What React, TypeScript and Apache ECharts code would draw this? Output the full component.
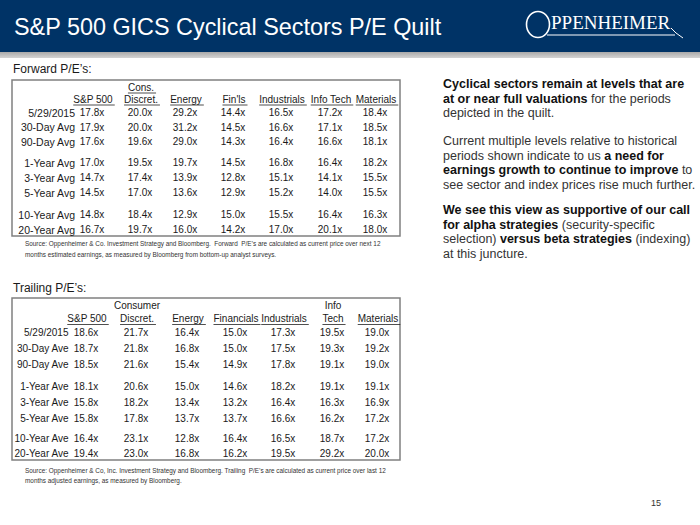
import React, { useEffect, useRef } from "react";
import * as echarts from "echarts";

// ---------- DATA ----------
const titleText = "S&P 500 GICS Cyclical Sectors P/E Quilt";

const fwdTopHeaders = ["", "Cons.", "", "", "", "", ""];
const fwdHeaders = ["S&P 500", "Discret.", "Energy", "Fin'ls", "Industrials", "Info Tech", "Materials"];
const fwdRows = ["5/29/2015", "30-Day Avg", "90-Day Avg", "1-Year Avg", "3-Year Avg", "5-Year Avg", "10-Year Avg", "20-Year Avg"];
const fwdValues = [
  [17.8, 20.0, 29.2, 14.4, 16.5, 17.2, 18.4],
  [17.9, 20.0, 31.2, 14.5, 16.6, 17.1, 18.5],
  [17.6, 19.6, 29.0, 14.3, 16.4, 16.6, 18.1],
  [17.0, 19.5, 19.7, 14.5, 16.8, 16.4, 18.2],
  [14.7, 17.4, 13.9, 12.8, 15.1, 14.1, 15.5],
  [14.5, 17.0, 13.6, 12.9, 15.2, 14.0, 15.5],
  [14.8, 18.4, 12.9, 15.0, 15.5, 16.4, 16.3],
  [16.7, 19.7, 16.0, 14.2, 17.0, 20.1, 18.0],
];
const fwdSource = [
  "Source: Oppenheimer & Co. Investment Strategy and Bloomberg.  Forward  P/E\u2019s are calculated as current price over next 12",
  "months estimated earnings, as measured by Bloomberg from bottom-up analyst surveys.",
];

const trlTopHeaders = ["", "Consumer", "", "", "", "Info", ""];
const trlHeaders = ["S&P 500", "Discret.", "Energy", "Financials", "Industrials", "Tech", "Materials"];
const trlRows = ["5/29/2015", "30-Day Ave", "90-Day Ave", "1-Year Ave", "3-Year Ave", "5-Year Ave", "10-Year Ave", "20-Year Ave"];
const trlValues = [
  [18.6, 21.7, 16.4, 15.0, 17.3, 19.5, 19.0],
  [18.7, 21.8, 16.8, 15.0, 17.5, 19.3, 19.2],
  [18.5, 21.6, 15.4, 14.9, 17.8, 19.1, 19.0],
  [18.1, 20.6, 15.0, 14.6, 18.2, 19.1, 19.1],
  [15.8, 18.2, 13.4, 13.2, 16.4, 16.3, 16.9],
  [15.8, 17.8, 13.7, 13.7, 16.6, 16.2, 17.2],
  [16.4, 23.1, 12.8, 16.4, 16.5, 18.7, 17.2],
  [19.4, 23.0, 16.8, 16.2, 19.5, 29.2, 20.0],
];
const trlSource = [
  "Source: Oppenheimer & Co, Inc. Investment Strategy and Bloomberg. Trailing  P/E\u2019s are calculated as current price over last 12",
  "months adjusted earnings, as measured by Bloomberg.",
];

// right-hand commentary: [text, bold]
const commentary: [string, boolean][][] = [
  [["Cyclical sectors remain at levels that are", true]],
  [["at or near full valuations", true], [" for the periods", false]],
  [["depicted in the quilt.", false]],
  [],
  [["Current multiple levels relative to historical", false]],
  [["periods shown indicate to us ", false], ["a need for", true]],
  [["earnings growth to continue to improve", true], [" to", false]],
  [["see sector and index prices rise much further.", false]],
  [],
  [["We see this view as supportive of our call", true]],
  [["for alpha strategies", true], [" (security-specific", false]],
  [["selection) ", false], ["versus beta strategies", true], [" (indexing)", false]],
  [["at this juncture.", false]],
];
const pageNumber = "15";

// ---------- LAYOUT ----------
const FF = "'Liberation Sans', Arial, sans-serif";
const tableFont = `10px ${FF}`;

const ctx = document.createElement("canvas").getContext("2d")!;
function tw(text: string, font: string) {
  ctx.font = font;
  return ctx.measureText(text).width;
}

function txt(text: string, x: number, y: number, font: string, fill: string, align = "left") {
  return {
    type: "text",
    x,
    y,
    silent: true,
    style: { text, font, fill, textAlign: align, textVerticalAlign: "middle" },
  };
}

function buildTable(
  els: any[],
  cfg: {
    label: string; labelY: number; box: [number, number, number, number];
    top: string[]; topUnderline: boolean; topY: number;
    headers: string[]; headY: number; colX: number[];
    rows: string[]; rowY: number[]; rowRight: number; rowFont: string; values: number[][];
    source: string[]; sourceY: number[];
  }
) {
  els.push(txt(cfg.label, 13, cfg.labelY, `12px ${FF}`, "#1a1a1a"));
  const [bx, by, bw, bh] = cfg.box;
  els.push({
    type: "rect", silent: true,
    shape: { x: bx, y: by, width: bw, height: bh },
    style: { fill: "none", stroke: "#808080", lineWidth: 1.5 },
  });
  const ul = (t: string, cx: number, y: number) => {
    const w = tw(t, tableFont);
    els.push({
      type: "line", silent: true,
      shape: { x1: cx - w / 2, y1: y + 6, x2: cx + w / 2 + 2, y2: y + 6 },
      style: { stroke: "#222", lineWidth: 0.8 },
    });
  };
  cfg.top.forEach((t, i) => {
    if (!t) return;
    els.push(txt(t, cfg.colX[i], cfg.topY, tableFont, "#1a1a1a", "center"));
    if (cfg.topUnderline) ul(t, cfg.colX[i], cfg.topY);
  });
  cfg.headers.forEach((t, i) => {
    els.push(txt(t, cfg.colX[i], cfg.headY, tableFont, "#1a1a1a", "center"));
    ul(t, cfg.colX[i], cfg.headY);
  });
  cfg.rows.forEach((r, ri) => {
    els.push(txt(r, cfg.rowRight, cfg.rowY[ri], cfg.rowFont, "#1a1a1a", "right"));
    cfg.values[ri].forEach((v, ci) => {
      els.push(txt(v.toFixed(1) + "x", cfg.colX[ci] - 1, cfg.rowY[ri], tableFont, "#1a1a1a", "center"));
    });
  });
  cfg.source.forEach((s, i) => {
    els.push(txt(s, 25, cfg.sourceY[i], `6.4px ${FF}`, "#333"));
  });
}

function buildElements() {
  const els: any[] = [];
  // header band
  els.push({ type: "rect", silent: true, shape: { x: 0, y: 0, width: 700, height: 52 }, style: { fill: "#003366" } });
  els.push({
    type: "rect", silent: true, shape: { x: 0, y: 52, width: 700, height: 6 },
    style: {
      fill: new echarts.graphic.LinearGradient(0, 0, 0, 1, [
        { offset: 0, color: "#a9a9a9" },
        { offset: 1, color: "#d4d4d4" },
      ]),
    },
  });
  els.push(txt(titleText, 14, 27, `23.4px ${FF}`, "#ffffff"));

  // logo
  els.push({
    type: "ellipse", silent: true, shape: { cx: 538, cy: 24.5, rx: 11.5, ry: 13 },
    style: { fill: "none", stroke: "#ffffff", lineWidth: 1.6 },
  });
  els.push({
    type: "text", silent: true, x: 551, y: 31.5,
    style: { text: "PPENHEIMER", font: `19px 'Liberation Serif', 'DejaVu Serif', serif`, fill: "#ffffff", textVerticalAlign: "bottom" },
  });
  els.push({
    type: "line", silent: true, shape: { x1: 547, y1: 35, x2: 675, y2: 35 },
    style: { stroke: "#ffffff", lineWidth: 1 },
  });
  els.push({
    type: "bezierCurve", silent: true,
    shape: { x1: 671, y1: 28, cpx1: 675, cpy1: 33, x2: 683, y2: 38 },
    style: { stroke: "#ffffff", lineWidth: 1, fill: "none" },
  });

  buildTable(els, {
    label: "Forward P/E\u2019s:", labelY: 69, box: [12, 80, 388, 156],
    top: fwdTopHeaders, topUnderline: true, topY: 87,
    headers: fwdHeaders, headY: 99, colX: [93, 141, 186, 234, 282, 331, 376],
    rows: fwdRows, rowY: [112.5, 127, 141.5, 162.5, 177.5, 192.5, 214.5, 229.5], rowRight: 75,
    rowFont: `10.5px ${FF}`,
    values: fwdValues, source: fwdSource, sourceY: [243, 254],
  });
  buildTable(els, {
    label: "Trailing P/E\u2019s:", labelY: 288, box: [12, 298, 388, 162],
    top: trlTopHeaders, topUnderline: false, topY: 305,
    headers: trlHeaders, headY: 318.5, colX: [87, 137, 188, 236, 284, 333, 378],
    rows: trlRows, rowY: [332, 348, 364, 386, 402, 418, 438, 453], rowRight: 68.5,
    rowFont: tableFont,
    values: trlValues, source: trlSource, sourceY: [470.5, 480.5],
  });

  // commentary
  const nFont = `12.5px ${FF}`;
  const bFont = `bold 12.5px ${FF}`;
  const lineYs = [84, 98.5, 113, 0, 141, 155.5, 170, 184.5, 0, 210, 224.5, 239, 253.5];
  commentary.forEach((line, li) => {
    let x = 443;
    line.forEach(([t, bold]) => {
      const f = bold ? bFont : nFont;
      els.push(txt(t, x, lineYs[li], f, bold ? "#111" : "#333"));
      x += tw(t, f);
    });
  });

  els.push(txt(pageNumber, 651, 503, `9px ${FF}`, "#333"));
  return els;
}

export default function App() {
  const ref = useRef<HTMLDivElement>(null);
  useEffect(() => {
    document.body.style.margin = "0";
    const chart = echarts.init(ref.current!, undefined, { renderer: "svg" });
    chart.setOption({
      animation: false,
      backgroundColor: "#ffffff",
      graphic: { elements: buildElements() },
    });
    return () => chart.dispose();
  }, []);
  return <div ref={ref} style={{ position: "absolute", left: 0, top: 0, width: 700, height: 525 }} />;
}
